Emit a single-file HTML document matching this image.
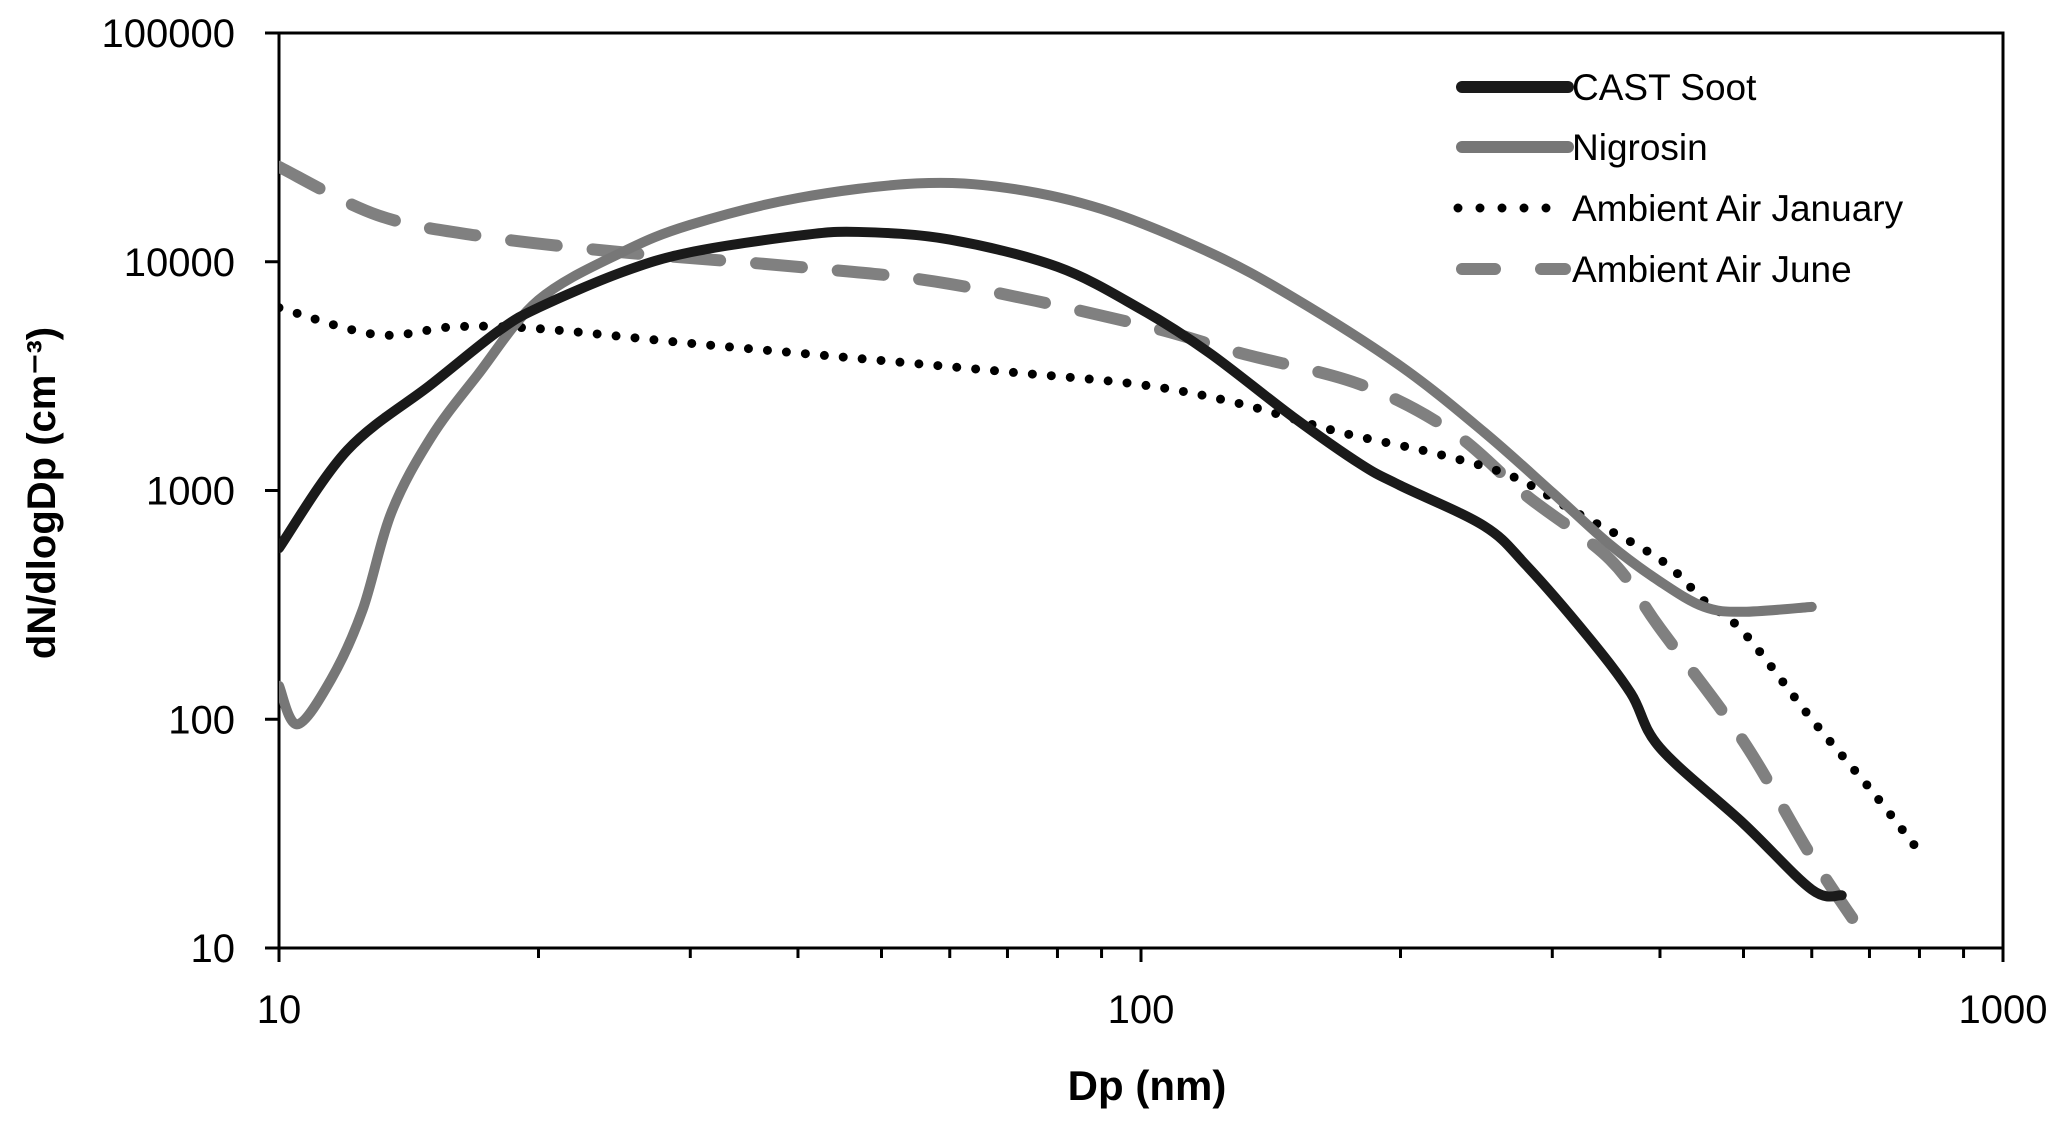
<!DOCTYPE html>
<html><head><meta charset="utf-8"><style>
html,body{margin:0;padding:0;background:#fff}
svg{display:block}
text{font-family:"Liberation Sans",sans-serif;fill:#000}
</style></head><body>
<svg id="chart" width="2067" height="1122" viewBox="0 0 2067 1122">
<rect x="279" y="33" width="1724" height="915" fill="none" stroke="#000" stroke-width="3"/>
<g id="ticks"></g>
<g id="series"></g>
<text x="1147" y="1100" text-anchor="middle" font-size="42" font-weight="bold">Dp (nm)</text>
<text transform="translate(55,493) rotate(-90)" text-anchor="middle" font-size="40" font-weight="bold">dN/dlogDp (cm⁻³)</text>
<g>
<line x1="1462" y1="87" x2="1568" y2="87" stroke="#1a1a1a" stroke-width="12" stroke-linecap="round"/>
<text x="1572" y="100" font-size="37">CAST Soot</text>
<line x1="1462" y1="147" x2="1568" y2="147" stroke="#777" stroke-width="12" stroke-linecap="round"/>
<text x="1572" y="160" font-size="37">Nigrosin</text>
<line x1="1458" y1="208" x2="1568" y2="208" stroke="#000" stroke-width="9" stroke-linecap="round" stroke-dasharray="0 22"/>
<text x="1572" y="221" font-size="37">Ambient Air January</text>
<line x1="1462" y1="269" x2="1495" y2="269" stroke="#808080" stroke-width="12" stroke-linecap="round"/>
<line x1="1541" y1="269" x2="1565" y2="269" stroke="#808080" stroke-width="12" stroke-linecap="round"/>
<text x="1572" y="282" font-size="37">Ambient Air June</text>
</g>
</svg>
<script>
const yTickLabels=["10","100","1000","10000","100000"];
const xTickLabels=["10","100","1000"];
const sootX=[10,12,15,18,20,25,30,40,47,60,80,100,120,150,180,200,250,280,330,370,400,500,600,650];
const sootY=[560,1500,2900,5000,6300,9000,11000,13000,13500,12500,9500,6200,4000,2100,1300,1050,700,470,230,130,75,35,18,17];
const nigX=[10,10.5,11.5,12.5,13.5,15,17,20,25,30,40,55,70,90,120,150,200,250,300,350,400,450,500,600];
const nigY=[140,95,150,300,800,1700,3200,6800,11000,14500,19000,22000,21000,17000,11000,7000,3500,1800,980,580,400,310,295,310];
const janX=[10,13,16,20,30,50,70,100,130,170,220,270,320,400,450,500,600,700,790];
const janY=[6300,4800,5200,5100,4400,3700,3300,2900,2400,1800,1450,1150,800,500,330,240,100,50,28];
const junX=[10,13,17,25,40,60,100,130,180,230,280,350,400,500,600,700];
const junY=[26000,16000,13000,11000,9500,8000,5300,4000,2900,1800,950,500,250,80,25,10.5];

const NS="http://www.w3.org/2000/svg";
const L=279,R=2003,T=33,B=948;
function sx(v){return L+(Math.log10(v)-1)/2*(R-L);}
function sy(v){return B-(Math.log10(v)-1)/4*(B-T);}
const tg=document.getElementById('ticks');
function mk(tag,attrs,parent){const e=document.createElementNS(NS,tag);for(const k in attrs)e.setAttribute(k,attrs[k]);parent.appendChild(e);return e;}
yTickLabels.forEach(s=>{
  const y=sy(+s);
  const l=mk('line',{x1:L-14,x2:L,y1:y,y2:y,stroke:'#000','stroke-width':3},tg);
  
  
  const t=mk('text',{x:235,y:y+14,'text-anchor':'end','font-size':40},tg);
  
  
  t.textContent=s;
});
xTickLabels.forEach(s=>{
  const x=sx(+s);
  const l=mk('line',{x1:x,x2:x,y1:B,y2:B+14,stroke:'#000','stroke-width':3},tg);
  
  
  const t=mk('text',{x:x,y:1023,'text-anchor':'middle','font-size':40},tg);
  
  
  t.textContent=s;
});
[10,100].forEach(d=>{for(let k=2;k<10;k++){const x=sx(d*k);
  const l=mk('line',{x1:x,x2:x,y1:B,y2:B+10,stroke:'#000','stroke-width':3},tg);
  
  }});
function pathD(xs,ys){
  const p=xs.map((x,i)=>[sx(x),sy(ys[i])]);
  let d=`M${p[0][0]},${p[0][1]}`;
  for(let i=0;i<p.length-1;i++){
    const p0=p[Math.max(0,i-1)],p1=p[i],p2=p[i+1],p3=p[Math.min(p.length-1,i+2)];
    const c1=[p1[0]+(p2[0]-p0[0])/6,p1[1]+(p2[1]-p0[1])/6];
    const c2=[p2[0]-(p3[0]-p1[0])/6,p2[1]-(p3[1]-p1[1])/6];
    d+=` C${c1[0]},${c1[1]} ${c2[0]},${c2[1]} ${p2[0]},${p2[1]}`;
  }
  return d;
}
const sg=document.getElementById('series');
const clip=mk('clipPath',{id:'pc'},document.getElementById('chart'));
mk('rect',{x:L,y:T,width:R-L,height:B-T},clip);
sg.setAttribute('clip-path','url(#pc)');
const s1=mk('path',{d:pathD(junX,junY),fill:'none',stroke:'#808080','stroke-width':12,'stroke-linecap':'round','stroke-dasharray':'46 36'},sg);


const s2=mk('path',{d:pathD(janX,janY),fill:'none',stroke:'#000','stroke-width':9,'stroke-linecap':'round','stroke-dasharray':'0 19'},sg);


const s3=mk('path',{d:pathD(nigX,nigY),fill:'none',stroke:'#777','stroke-width':10,'stroke-linecap':'round'},sg);


const s4=mk('path',{d:pathD(sootX,sootY),fill:'none',stroke:'#1a1a1a','stroke-width':10,'stroke-linecap':'round'},sg);


</script>
</body></html>
